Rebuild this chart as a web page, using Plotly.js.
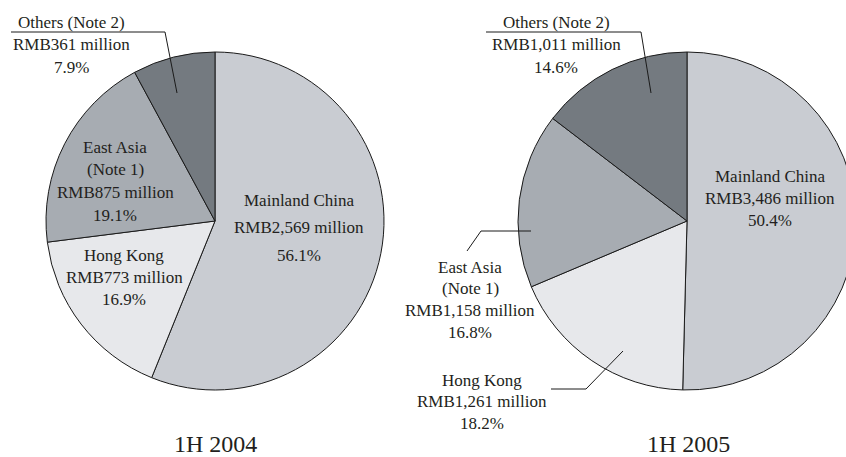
<!DOCTYPE html>
<html>
<head>
<meta charset="utf-8">
<script src="https://cdn.plot.ly/plotly-3.0.1.min.js"></script>
<style>
html,body{margin:0;padding:0;overflow:hidden;background:#fff;}
#chart{width:870px;height:457px;}
</style>
</head>
<body>
<div id="chart"></div>
<script>
// ---- data ----
const categories = ["Mainland China", "Hong Kong", "East Asia", "Others"];
const displayNames = [["Mainland China"], ["Hong Kong"], ["East Asia", "(Note 1)"], ["Others (Note 2)"]];
const values2004 = [2569, 773, 875, 361];
const values2005 = [3486, 1261, 1158, 1011];
const pct2004 = ["56.1%", "16.9%", "19.1%", "7.9%"];
const pct2005 = ["50.4%", "18.2%", "16.8%", "14.6%"];
const periodTitles = ["1H 2004", "1H 2005"];
const sliceColors = ["#c9ccd2", "#e7e8eb", "#a7acb2", "#747a80"];

// ---- layout helpers (pixel -> paper) ----
const W = 870, H = 457;
const px = x => x / W;
const py = y => 1 - y / H;
const fmt = v => v.toLocaleString("en-US");
const FONT = "'Liberation Serif', 'Times New Roman', serif";
const TXT = "#231f20";

function pieTrace(values, cx, cy, r) {
  return {
    type: "pie",
    labels: categories,
    values: values,
    sort: false,
    direction: "clockwise",
    rotation: 0,
    textinfo: "none",
    hoverinfo: "label+value+percent",
    showlegend: false,
    marker: {colors: sliceColors, line: {color: "#1a1a1a", width: 1}},
    domain: {x: [px(cx - r), px(cx + r)], y: [py(cy + r), py(cy - r)]}
  };
}

const traces = [
  pieTrace(values2004, 215, 221, 169),
  pieTrace(values2005, 687, 221, 169)
];

// label placement per pie (x center, first line y, line spacing) in category order
const labelPos = [
  [[299, 200, 27.5], [124, 255, 22], [115, 147, 22.7], [71, 22, 23]],
  [[770, 177, 21.5], [482, 380, 21.5], [470, 267, 21.7], [556, 22, 22.5]]
];
const allValues = [values2004, values2005];
const allPct = [pct2004, pct2005];

const annotations = [];
for (let p = 0; p < 2; p++) {
  for (let i = 0; i < categories.length; i++) {
    const lines = displayNames[i].concat(["RMB" + fmt(allValues[p][i]) + " million", allPct[p][i]]);
    const [x, y0, dy] = labelPos[p][i];
    lines.forEach((t, k) => {
      annotations.push({
        xref: "paper", yref: "paper", x: px(x), y: py(y0 + k * dy),
        xanchor: "center", yanchor: "middle", showarrow: false,
        text: t, font: {family: FONT, size: 17, color: TXT}
      });
    });
  }
}
const titleX = [215, 688];
periodTitles.forEach((t, p) => {
  annotations.push({
    xref: "paper", yref: "paper", x: px(titleX[p]), y: py(444),
    xanchor: "center", yanchor: "middle", showarrow: false,
    text: t, font: {family: FONT, size: 24, color: TXT}
  });
});

// leader lines
const leaders = [
  [[11, 32], [165, 32], [177, 93]],
  [[486, 32], [641, 32], [651, 93]],
  [[467, 251], [481, 231], [531, 231]],
  [[551, 389], [586, 389], [623, 351]]
];
const shapes = leaders.map(pts => ({
  type: "path", xref: "paper", yref: "paper",
  path: pts.map((q, k) => (k ? "L" : "M") + px(q[0]) + "," + py(q[1])).join(" "),
  line: {color: "#1a1a1a", width: 1}
}));

const layout = {
  width: W, height: H,
  margin: {l: 0, r: 0, t: 0, b: 0},
  paper_bgcolor: "#ffffff",
  annotations: annotations,
  shapes: shapes
};

Plotly.newPlot("chart", traces, layout, {staticPlot: true, displayModeBar: false});
</script>
</body>
</html>
